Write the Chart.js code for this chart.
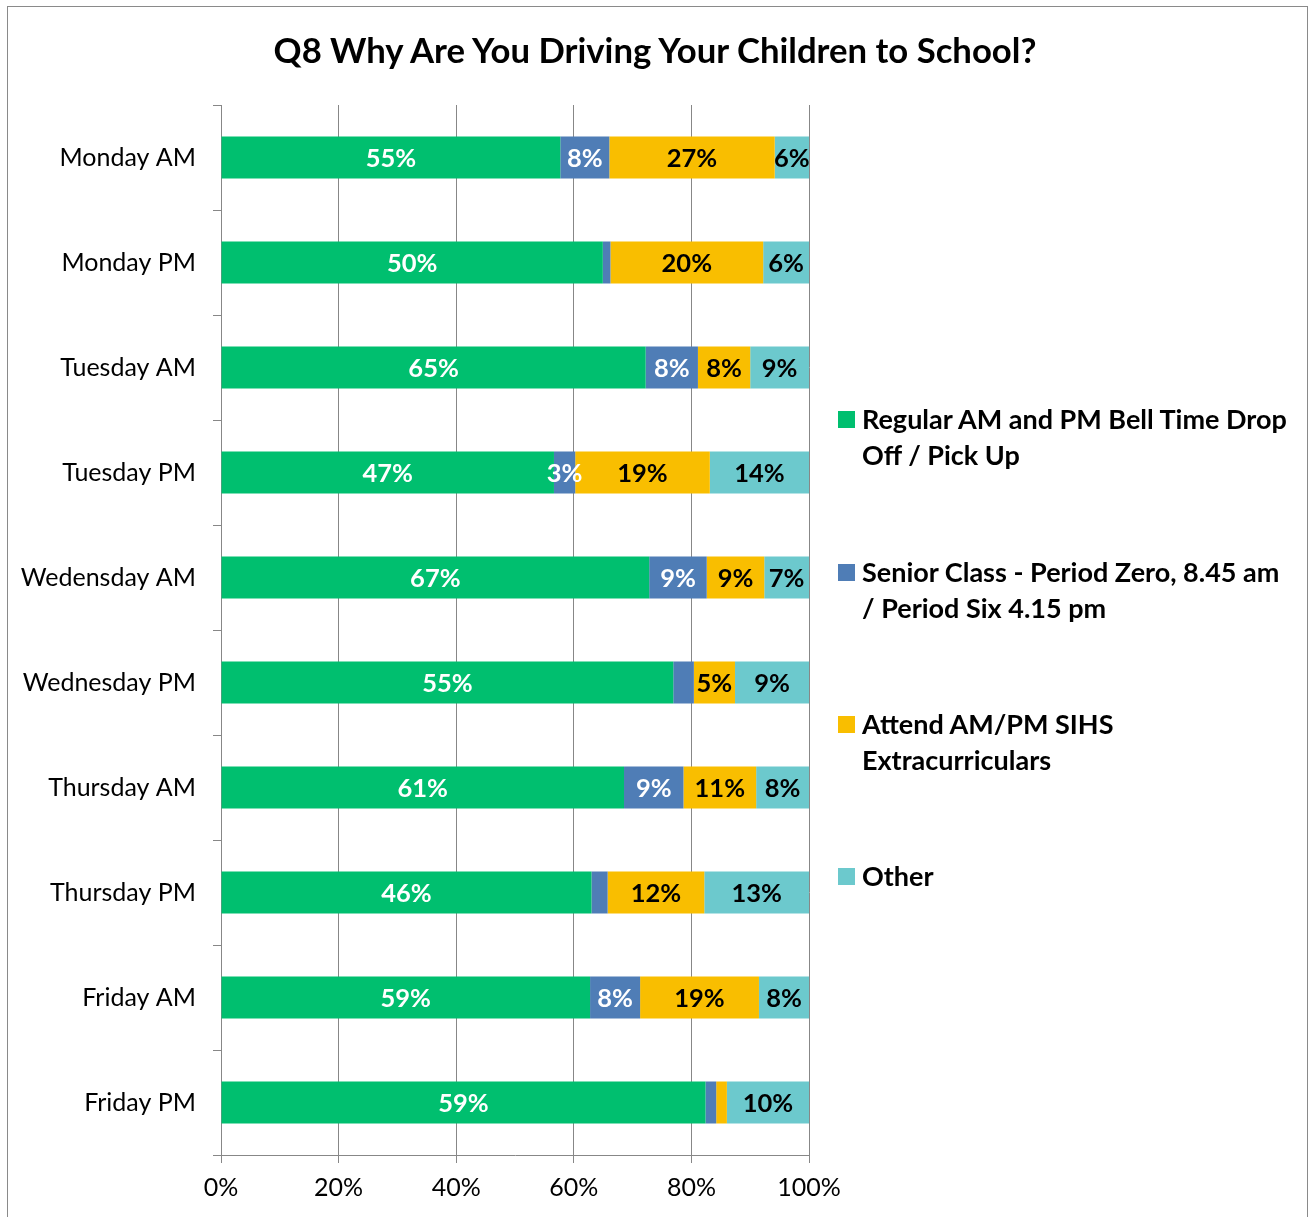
<!DOCTYPE html>
<html>
<head>
<meta charset="utf-8">
<script src="https://cdn.jsdelivr.net/npm/chart.js@4/dist/chart.umd.min.js"></script>
<style>
    html, body { margin: 0; padding: 0; background: #fff; overflow: hidden; }
    body { width: 1310px; height: 1217px; position: relative; font-family: Lato, "Open Sans", sans-serif; }
    #marco { position: absolute; left: 7px; top: 6px; width: 1299px; height: 1300px; border: 1px solid #8a8a8a; }
    #titulo { position: absolute; left: 0; top: 30px; width: 1310px; text-align: center;
              font-weight: bold; font-size: 34.7px; line-height: 40px; color: #000; }
    #contenedor { position: absolute; left: 0; top: 0; width: 1310px; height: 1217px; }
    #leyenda { position: absolute; left: 838px; top: 0; width: 470px; }
    .legend-item { position: absolute; left: 0; display: flex; align-items: flex-start; }
    .legend-color-box { width: 17px; height: 17px; margin-top: 10px; margin-right: 7px; flex: none; }
    .legend-text { width: 428px; font-weight: bold; font-size: 27px; line-height: 36px; color: #000; }
</style>
</head>
<body>
<div id="marco"></div>
<div id="contenedor"><canvas id="miGrafica"></canvas></div>
<div id="titulo">Q8 Why Are You Driving Your Children to School?</div>
<div id="leyenda"></div>
<script>
// Categorías (eje Y)
const dias = ['Monday AM', 'Monday PM', 'Tuesday AM', 'Tuesday PM', 'Wedensday AM',
              'Wednesday PM', 'Thursday AM', 'Thursday PM', 'Friday AM', 'Friday PM'];

// Nombres de las series
const nombresSeries = [
    'Regular AM and PM Bell Time Drop Off / Pick Up',
    'Senior Class - Period Zero, 8.45 am / Period Six 4.15 pm',
    'Attend AM/PM SIHS Extracurriculars',
    'Other'
];

// Valores (%) tal como aparecen en las etiquetas; las barras se normalizan al 100%
const regular = [55.4, 50, 65, 47, 67, 55, 61, 46, 59, 59];
const senior  = [8, 1, 8, 3, 9, 2.5, 9, 2, 8, 1.3];
const extra   = [27, 20, 8, 19, 9, 5, 11, 12, 19, 1.3];
const otros   = [5.6, 6, 9, 14, 7, 9, 8, 13, 8, 10];

// Ticks del eje X
const ticksX = [0, 20, 40, 60, 80, 100];

const colores = ['#00BF6F', '#4F7DB6', '#F9BE00', '#6CC9CD'];
const coloresTexto = ['#ffffff', '#ffffff', '#000000', '#000000'];
const FUENTE = 'Lato, "Open Sans", sans-serif';
const GRIS = '#878787';

const series = [regular, senior, extra, otros];
const totales = dias.map((_, i) => series.reduce((s, arr) => s + arr[i], 0));

const datasets = series.map((valores, k) => ({
    label: nombresSeries[k],
    data: valores.map((v, i) => v / totales[i] * 100),
    valores: valores,
    backgroundColor: colores[k],
    borderWidth: 0,
    barPercentage: 0.4,
    categoryPercentage: 1.0
}));

// Etiquetas de valor centradas en cada segmento
const etiquetasPlugin = {
    id: 'etiquetas',
    afterDatasetsDraw(chart) {
        const ctx = chart.ctx;
        ctx.save();
        ctx.font = 'bold 25.5px ' + FUENTE;
        ctx.textAlign = 'center';
        ctx.textBaseline = 'middle';
        chart.data.datasets.forEach((ds, di) => {
            const meta = chart.getDatasetMeta(di);
            meta.data.forEach((bar, i) => {
                const valor = ds.valores[i];
                if (valor < 3) return; // los segmentos muy pequeños no llevan etiqueta
                ctx.fillStyle = coloresTexto[di];
                ctx.fillText(Math.round(valor) + '%', (bar.x + bar.base) / 2, bar.y + 1);
            });
        });
        ctx.restore();
    }
};

const ctx = document.getElementById('miGrafica').getContext('2d');
const miGrafica = new Chart(ctx, {
    type: 'bar',
    data: { labels: dias, datasets },
    options: {
        indexAxis: 'y',
        responsive: true,
        maintainAspectRatio: false,
        animation: false,
        layout: { padding: { top: 105, right: 501, bottom: 0, left: 0 } },
        plugins: {
            legend: { display: false },
            tooltip: { enabled: false },
            title: { display: false }
        },
        scales: {
            x: {
                type: 'linear',
                stacked: true,
                min: 0,
                max: 100,
                afterBuildTicks(scale) {
                    scale.ticks = ticksX.map(v => ({ value: v }));
                },
                ticks: {
                    callback: v => v + '%',
                    font: { family: FUENTE, size: 25 },
                    color: '#000',
                    padding: 10,
                    maxRotation: 0
                },
                grid: { color: GRIS, tickColor: GRIS, tickLength: 8, lineWidth: 1 },
                border: { color: GRIS },
                afterFit(scale) { scale.height = 62; }
            },
            y: {
                stacked: true,
                ticks: {
                    font: { family: FUENTE, size: 25 },
                    color: '#000',
                    padding: 17
                },
                grid: { drawOnChartArea: false, offset: true, tickLength: 8, color: GRIS, tickColor: GRIS },
                border: { color: GRIS },
                afterFit(scale) { scale.width = 221; }
            }
        }
    },
    plugins: [etiquetasPlugin]
});

// Leyenda HTML a la derecha
function generarLeyendaHTML(datasets) {
    const leyenda = document.getElementById('leyenda');
    const tops = [401, 554, 706, 858];
    datasets.forEach((ds, i) => {
        const item = document.createElement('div');
        item.className = 'legend-item';
        item.style.top = tops[i] + 'px';
        item.innerHTML = `
            <span class="legend-color-box" style="background-color: ${ds.backgroundColor}"></span>
            <span class="legend-text">${ds.label}</span>`;
        leyenda.appendChild(item);
    });
}
generarLeyendaHTML(datasets);
</script>
</body>
</html>
